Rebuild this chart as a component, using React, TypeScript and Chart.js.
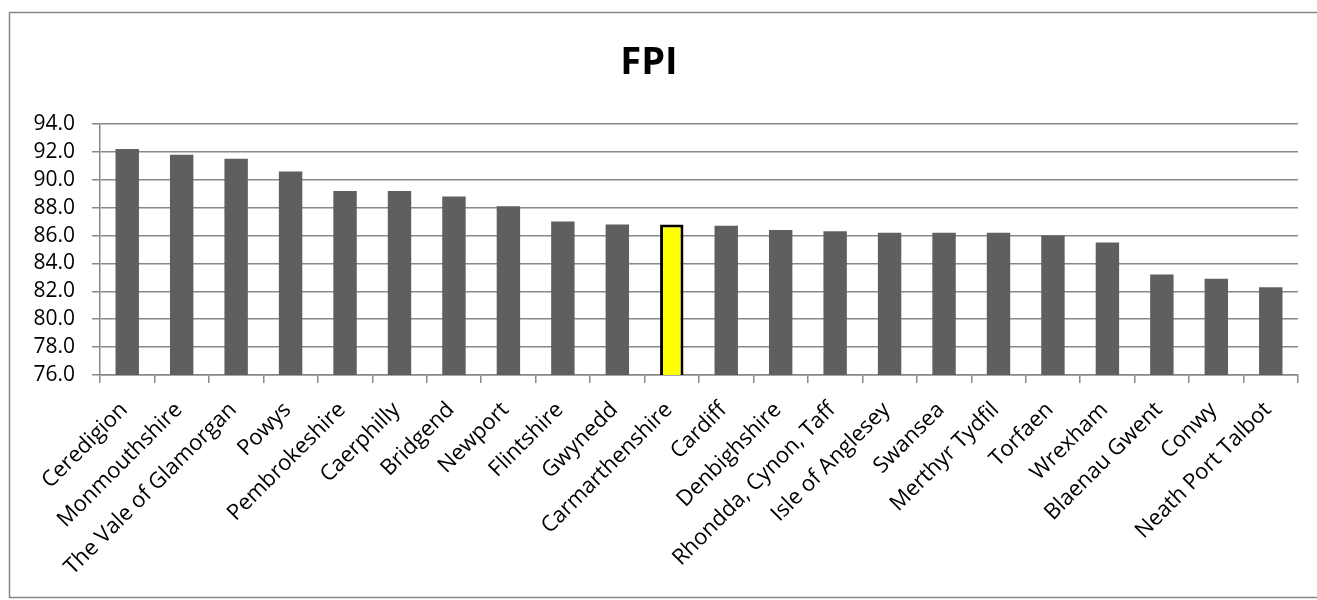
import React, { useEffect, useRef } from "react";
import { Chart, registerables } from "chart.js";

Chart.register(...registerables);

const categories: string[] = [
  "Ceredigion",
  "Monmouthshire",
  "The Vale of Glamorgan",
  "Powys",
  "Pembrokeshire",
  "Caerphilly",
  "Bridgend",
  "Newport",
  "Flintshire",
  "Gwynedd",
  "Carmarthenshire",
  "Cardiff",
  "Denbighshire",
  "Rhondda, Cynon, Taff",
  "Isle of Anglesey",
  "Swansea",
  "Merthyr Tydfil",
  "Torfaen",
  "Wrexham",
  "Blaenau Gwent",
  "Conwy",
  "Neath Port Talbot",
];

const fpiValues: number[] = [
  92.2, 91.8, 91.5, 90.6, 89.2, 89.2, 88.8, 88.1, 87.0, 86.8, 86.8, 86.7, 86.4,
  86.3, 86.2, 86.2, 86.2, 86.0, 85.5, 83.2, 82.9, 82.3,
];

const highlighted = "Carmarthenshire";
const chartTitle = "FPI";
const yMin = 76;
const yMax = 94;
const yStep = 2;

const FONT = "'Open Sans', sans-serif";

const borderPlugin = {
  id: "outerBorder",
  beforeDraw(chart: any) {
    const ctx = chart.ctx;
    ctx.save();
    ctx.fillStyle = "#ffffff";
    ctx.fillRect(0, 0, chart.width, chart.height);
    ctx.strokeStyle = "#888888";
    ctx.lineWidth = 1.5;
    ctx.strokeRect(9.5, 12.5, 1320, 585);
    ctx.restore();
  },
};

export default function App() {
  const ref = useRef<HTMLCanvasElement | null>(null);

  useEffect(() => {
    document.body.style.margin = "0";
    const canvas = ref.current;
    if (!canvas) return;
    const bg = categories.map((c) => (c === highlighted ? "#ffff00" : "#5f5f5f"));
    const bc = categories.map((c) => (c === highlighted ? "#000000" : "#5f5f5f"));
    const bw = categories.map((c) => (c === highlighted ? 3 : 0));
    const chart = new Chart(canvas, {
      type: "bar",
      data: {
        labels: categories,
        datasets: [
          {
            label: chartTitle,
            data: fpiValues,
            backgroundColor: bg,
            borderColor: bc,
            borderWidth: bw,
            borderSkipped: false,
            barPercentage: 0.43,
            categoryPercentage: 1,
          },
        ],
      },
      options: {
        animation: false,
        responsive: false,
        devicePixelRatio: 1,
        layout: { padding: { left: 0, right: 19, top: 0, bottom: 0 } },
        plugins: {
          legend: { display: false },
          tooltip: { enabled: false },
          title: {
            display: true,
            text: chartTitle,
            color: "#000000",
            font: { family: FONT, size: 38, weight: "bold" },
            padding: { top: 40, bottom: 38.4 },
          },
        },
        scales: {
          x: {
            offset: true,
            grid: {
              display: true,
              offset: true,
              drawOnChartArea: false,
              drawTicks: true,
              tickLength: 8,
              color: "#888888",
              lineWidth: 1.5,
            },
            border: { display: true, color: "#888888", width: 1.5 },
            ticks: {
              minRotation: 45,
              maxRotation: 45,
              autoSkip: false,
              color: "#000000",
              padding: 14,
              labelOffset: -3,
              font: { family: FONT, size: 22 },
            },
            afterFit(scale: any) {
              scale.height = 225;
            },
          },
          y: {
            min: yMin,
            max: yMax,
            grid: {
              color: "#888888",
              lineWidth: 1.5,
              tickLength: 8,
              drawTicks: true,
            },
            border: { display: true, color: "#888888", width: 1.5 },
            ticks: {
              stepSize: yStep,
              autoSkip: false,
              color: "#000000",
              padding: 17,
              font: { family: FONT, size: 21 },
              callback: (v: any) => Number(v).toFixed(1),
            },
            afterFit(scale: any) {
              scale.width = 100;
            },
          },
        },
      },
      plugins: [borderPlugin],
    });
    return () => chart.destroy();
  }, []);

  return (
    <div style={{ position: "absolute", left: 0, top: 0, width: 1317, height: 600 }}>
      <canvas ref={ref} width={1317} height={600} style={{ width: 1317, height: 600 }} />
    </div>
  );
}
